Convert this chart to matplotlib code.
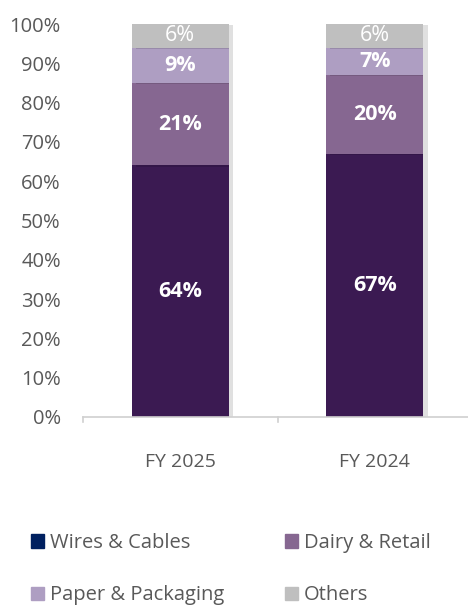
import matplotlib.pyplot as plt
import matplotlib.patheffects as pe
from matplotlib.patches import Patch

years = ["FY 2025", "FY 2024"]
segments = ["Wires & Cables", "Dairy & Retail", "Paper & Packaging", "Others"]
wires = [64, 67]
dairy = [21, 20]
paper = [9, 7]
others = [6, 6]

bar_colors = ["#3B1A52", "#866791", "#AE9EC2", "#BFBFBF"]
legend_colors = ["#002060", "#866791", "#AE9EC2", "#BFBFBF"]
bold_flags = [True, True, True, False]

plt.rcParams['font.family'] = ['Open Sans', 'DejaVu Sans']

fig = plt.figure(figsize=(4.68, 6.07), dpi=100)
ax = fig.add_axes([83 / 468, 1 - 417 / 607, 389 / 468, 393 / 607])

x = range(len(years))
bottom = [0, 0]
shadow = [pe.SimplePatchShadow(offset=(3, -1), shadow_rgbFace="#000000", alpha=0.12), pe.Normal()]
for vals, col, bold in zip([wires, dairy, paper, others], bar_colors, bold_flags):
    bars = ax.bar(x, vals, bottom=bottom, width=0.5, color=col, linewidth=0, zorder=2)
    for b in bars:
        b.set_path_effects(shadow)
    for i, v in enumerate(vals):
        ax.text(i, bottom[i] + v / 2, f"{v}%", ha="center", va="center",
                color="white", fontsize=15.5, fontweight="bold" if bold else "normal", zorder=3)
    bottom = [b0 + v for b0, v in zip(bottom, vals)]

ax.set_xlim(-0.5, 1.5)
ax.set_ylim(0, 100)
ax.set_yticks(range(0, 101, 10))
ax.set_yticklabels([f"{t}%" for t in range(0, 101, 10)])
ax.set_xticks(list(x))
ax.set_xticklabels(years)
ax.tick_params(axis="y", length=0, labelsize=14.5, labelcolor="#595959", pad=16)
ax.tick_params(axis="x", length=0, labelsize=14, labelcolor="#595959", pad=26)
for s in ["top", "right", "left"]:
    ax.spines[s].set_visible(False)
ax.spines["bottom"].set_color("#D0D0D0")
ax.spines["bottom"].set_linewidth(1.2)
# category separators on the axis
for tx in [-0.5, 0.5, 1.5]:
    ax.plot([tx, tx], [0, -1.3], color="#D0D0D0", lw=1.2, clip_on=False)

handles = [Patch(color=legend_colors[i], label=segments[i]) for i in [0, 2, 1, 3]]
fig.legend(handles=handles, ncol=2, loc="upper left", bbox_to_anchor=(0.028, 0.152),
           frameon=False, fontsize=14.5, labelcolor="#595959", handlelength=0.65,
           handleheight=0.65, handletextpad=0.3, columnspacing=3.0, labelspacing=1.62)

plt.savefig("out.png", dpi=100)
plt.close()
